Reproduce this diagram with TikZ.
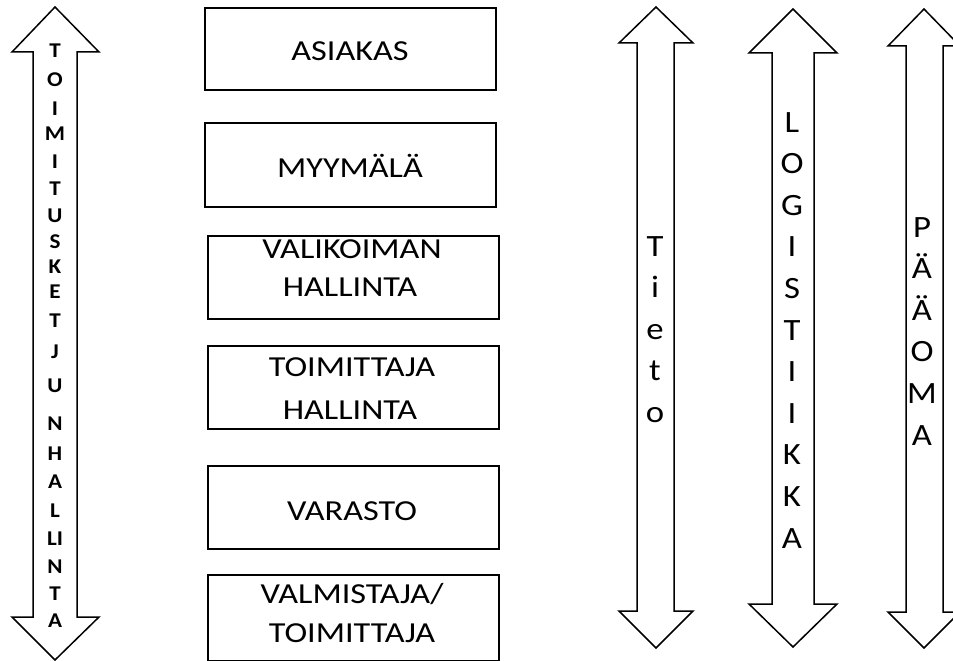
\documentclass[tikz,border=0pt]{standalone}
\usepackage{fontspec}
\setmainfont{Carlito}
\usepackage{graphicx}
\newcommand\hstretch[1]{\scalebox{1.18}[1]{#1}}
\begin{document}
\begin{tikzpicture}[x=1pt,y=-1pt,
  every node/.style={inner sep=0pt,outer sep=0pt},
  boxst/.style={draw=black,line width=1.6pt,fill=white,rectangle,minimum width=291pt},
  arrowst/.style={draw=black,line width=1.5pt,fill=white,line join=miter},
  boxtxt/.style={anchor=base,font=\fontsize{29}{29}\selectfont},
  lefttxt/.style={anchor=base,font=\fontsize{21}{21}\selectfont\bfseries},
  righttxt/.style={anchor=base,font=\fontsize{31}{31}\selectfont}]
\fill[white] (0,0) rectangle (953,661);
\clip (0,0) rectangle (953,661);
% left arrow
\draw[arrowst] (55,7) -- (99,52) -- (77,52) -- (77,617) -- (99,617) -- (55,660)
  -- (12,617) -- (33,617) -- (33,52) -- (12,52) -- cycle;
% right arrows
\draw[arrowst] (656,7) -- (693,43) -- (674,43) -- (674,611) -- (693,611) -- (656,648)
  -- (619,611) -- (637,611) -- (637,43) -- (619,43) -- cycle;
\draw[arrowst] (793,9) -- (837,53) -- (814,53) -- (814,604) -- (837,604) -- (793,647)
  -- (749,604) -- (772,604) -- (772,53) -- (749,53) -- cycle;
\draw[arrowst] (924,9) -- (960,46) -- (943,46) -- (943,612) -- (960,612) -- (924,648)
  -- (888,612) -- (906,612) -- (906,46) -- (888,46) -- cycle;
% boxes
\node[boxst,minimum height=82pt] (asiakas) at (350.5,49) {};
\node[boxst,minimum height=84pt] (myymala) at (350.5,165) {};
\node[boxst,minimum height=83pt] (valikoima) at (353.5,277.5) {};
\node[boxst,minimum height=83pt] (toimittaja) at (353.5,387.5) {};
\node[boxst,minimum height=83pt] (varasto) at (353.5,507.5) {};
\node[boxst,minimum height=86pt] (valmistaja) at (353.5,618) {};
% box texts
\node[boxtxt] (t1) at (350,61) {\hstretch{ASIAKAS}};
\node[boxtxt] (t2) at (350,177) {\hstretch{MYYMÄLÄ}};
\node[boxtxt] (t3a) at (352,258) {\hstretch{VALIKOIMAN}};
\node[boxtxt] (t3b) at (350,296) {\hstretch{HALLINTA}};
\node[boxtxt] (t4a) at (352,376) {\hstretch{TOIMITTAJA}};
\node[boxtxt] (t4b) at (350,419) {\hstretch{HALLINTA}};
\node[boxtxt] (t5) at (352,520) {\hstretch{VARASTO}};
\node[boxtxt] (t6a) at (352,603) {\hstretch{VALMISTAJA/}};
\node[boxtxt] (t6b) at (352,642) {\hstretch{TOIMITTAJA}};
% left arrow letters
\foreach \t/\y [count=\i] in {T/58,O/87,I/115,M/140,I/168,T/195,U/222,S/248,K/273,E/298,T/327,J/358,U/392,N/430,H/460,A/488,L/517,LI/545,N/573,T/600,A/627}
  \node[lefttxt] (tk\i) at (55,\y) {\scalebox{1.1}[1]{\t}};
% Tieto
\foreach \t/\y [count=\i] in {T/256,i/297.5,e/339,t/380.5,o/422}
  \node[righttxt] (ti\i) at (655,\y) {\scalebox{1.12}[1]{\t}};
% LOGISTIIKKA
\foreach \t/\y [count=\i] in {L/132,O/173.6,G/215.2,I/256.8,S/298.4,T/340,I/381.6,I/423.2,K/464.8,K/506.4,A/548}
  \node[righttxt] (lo\i) at (792,\y) {\scalebox{1.12}[1]{\t}};
% PÄÄOMA
\foreach \t/\y [count=\i] in {P/237,Ä/278.6,Ä/320.2,O/361.8,M/403.4,A/445}
  \node[righttxt] (pa\i) at (922,\y) {\scalebox{1.12}[1]{\t}};
\end{tikzpicture}
\end{document}
